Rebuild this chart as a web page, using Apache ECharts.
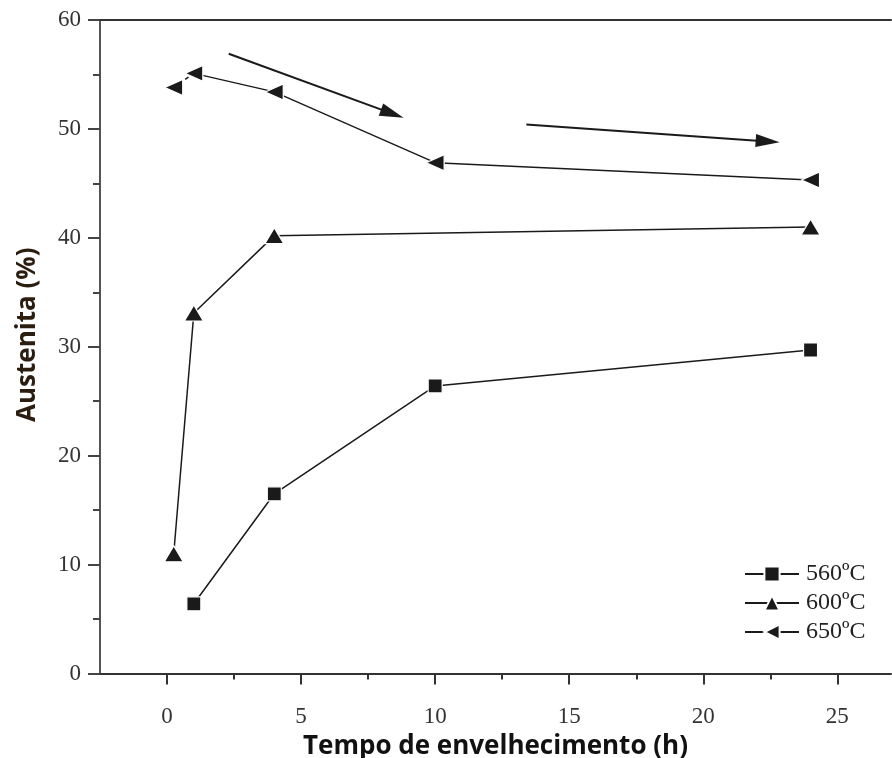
<!DOCTYPE html>
<html>
<head>
<meta charset="utf-8">
<script src="https://cdn.jsdelivr.net/npm/echarts@6/dist/echarts.min.js"></script>
<style>
  html, body { margin: 0; padding: 0; background: #fff; }
  #chart { width: 892px; height: 758px; }
</style>
</head>
<body>
<div id="chart"></div>
<script>
// Aging time (h) and austenite fraction (%) for each aging temperature
const t560 = [1, 4, 10, 24];
const a560 = [6.4, 16.5, 26.4, 29.7];

const t600 = [0.25, 1, 4, 24];
const a600 = [11.0, 33.1, 40.2, 41.0];

const t650 = [0.25, 1, 4, 10, 24];
const a650 = [53.8, 55.1, 53.4, 46.9, 45.3];

const seriesNames = ['560ºC', '600ºC', '650ºC'];

// Axis ticks and labels
const xMajor = [0, 5, 10, 15, 20, 25];
const xMinor = [2.5, 7.5, 12.5, 17.5, 22.5];
const yMajor = [0, 10, 20, 30, 40, 50, 60];
const yMinor = [5, 15, 25, 35, 45, 55];

// Trend arrows: [startTime, startValue, endTime, endValue]
const arrows = [
  [2.3, 56.9, 8.4, 51.4],
  [13.4, 50.4, 22.4, 48.85]
];

const pairs = (xs, ys) => xs.map((x, i) => [x, ys[i]]);

const ink = '#1a1a1a';
const serif = '"Liberation Serif", "Times New Roman", serif';
const sans = '"Open Sans", "Noto Sans", sans-serif';

const lineCommon = {
  type: 'line',
  xAxisIndex: 0,
  yAxisIndex: 0,
  lineStyle: { color: ink, width: 1.5 },
  itemStyle: { color: ink, borderColor: '#fff', borderWidth: 1.2 },
  emphasis: { disabled: true },
  z: 3
};

const d650 = pairs(t650, a650);

const chart = echarts.init(document.getElementById('chart'), null, { renderer: 'canvas' });

chart.setOption({
  backgroundColor: '#fff',
  animation: false,
  grid: { left: 100, right: 1, top: 20, bottom: 84.5, containLabel: false, outerBoundsMode: 'none' },
  legend: {
    orient: 'vertical',
    left: 739,
    top: 557,
    itemWidth: 54,
    itemHeight: 19,
    itemGap: 5,
    data: seriesNames,
    textStyle: { fontFamily: serif, fontSize: 24, color: '#222', padding: [0, 0, 0, 2] }
  },
  xAxis: [
    {
      type: 'value', min: -2.5, max: 27, position: 'bottom',
      axisLine: { show: true, onZero: false, lineStyle: { color: '#333', width: 2 } },
      axisTick: { show: true, inside: false, length: 11, customValues: xMajor, lineStyle: { color: '#333', width: 2 } },
      axisLabel: { customValues: xMajor, margin: 32, fontFamily: serif, fontSize: 23, color: '#333' },
      splitLine: { show: false },
      name: 'Tempo de envelhecimento (h)',
      nameLocation: 'middle',
      nameGap: 58,
      nameTextStyle: { fontFamily: sans, fontSize: 26, fontWeight: 'bold', color: '#111' }
    },
    {
      type: 'value', min: -2.5, max: 27, position: 'bottom',
      axisLine: { show: false, onZero: false },
      axisTick: { show: true, inside: false, length: 6, customValues: xMinor, lineStyle: { color: '#333', width: 2 } },
      axisLabel: { show: false },
      splitLine: { show: false }
    },
    {
      type: 'value', min: -2.5, max: 27, position: 'top',
      axisLine: { show: true, onZero: false, lineStyle: { color: '#333', width: 2 } },
      axisTick: { show: false },
      axisLabel: { show: false },
      splitLine: { show: false }
    }
  ],
  yAxis: [
    {
      type: 'value', min: 0, max: 60, interval: 10, position: 'left',
      axisLine: { show: true, onZero: false, lineStyle: { color: '#555', width: 2 } },
      axisTick: { show: true, inside: false, length: 12, customValues: yMajor, lineStyle: { color: '#444', width: 2 } },
      axisLabel: { customValues: yMajor, margin: 19, fontFamily: serif, fontSize: 23, color: '#333' },
      splitLine: { show: false },
      name: 'Austenita (%)',
      nameLocation: 'middle',
      nameGap: 59,
      nameTextStyle: { fontFamily: sans, fontSize: 26, fontWeight: 'bold', color: '#2b1d10', padding: [0, 0, 0, 24] }
    },
    {
      type: 'value', min: 0, max: 60, position: 'left',
      axisLine: { show: false, onZero: false },
      axisTick: { show: true, inside: false, length: 7, customValues: yMinor, lineStyle: { color: '#444', width: 2 } },
      axisLabel: { show: false },
      splitLine: { show: false }
    }
  ],
  series: [
    Object.assign({}, lineCommon, {
      name: seriesNames[0],
      data: pairs(t560, a560),
      symbol: 'rect',
      symbolSize: 14
    }),
    Object.assign({}, lineCommon, {
      name: seriesNames[1],
      data: pairs(t600, a600),
      symbol: 'triangle',
      symbolSize: [19, 16]
    }),
    Object.assign({}, lineCommon, {
      name: seriesNames[2],
      data: d650.slice(1),
      symbol: 'triangle',
      symbolRotate: 90,
      symbolSize: [16, 18]
    }),
    // first interval of the 650 ºC curve is dashed
    Object.assign({}, lineCommon, {
      name: '',
      data: d650.slice(0, 2).map((p, i) => ({
        value: p,
        symbol: i === 0 ? 'triangle' : 'none'
      })),
      symbol: 'triangle',
      symbolRotate: 90,
      symbolSize: [16, 18],
      lineStyle: { color: ink, width: 1.5, type: [4, 3] },
      z: 2
    }),
    // trend arrows
    {
      type: 'line',
      xAxisIndex: 0,
      yAxisIndex: 0,
      data: [],
      silent: true,
      markLine: {
        silent: true,
        symbol: ['none', 'triangle'],
        symbolSize: [13, 24],
        label: { show: false },
        emphasis: { disabled: true },
        lineStyle: { color: ink, width: 2, type: 'solid' },
        data: arrows.map(a => [
          { coord: [a[0], a[1]] },
          { coord: [a[2], a[3]] }
        ])
      }
    }
  ]
});
</script>
</body>
</html>
